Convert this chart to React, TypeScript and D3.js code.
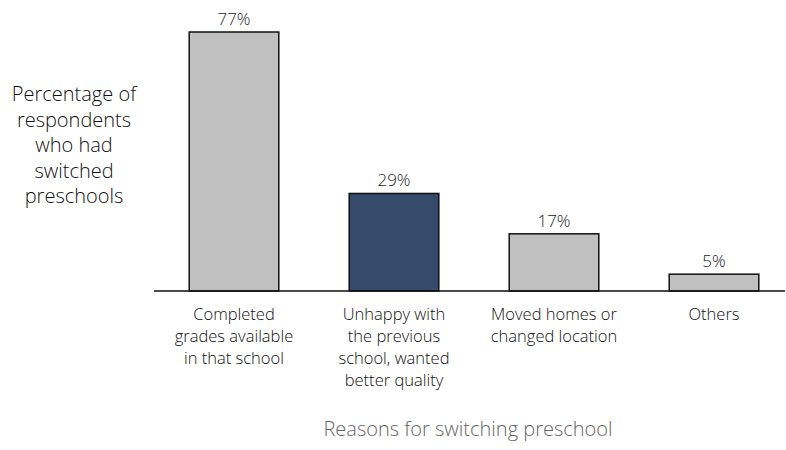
import { useEffect, useRef } from 'react'
import * as d3 from 'd3'

const categories = [
  ['Completed', 'grades available', 'in that school'],
  ['Unhappy with', 'the previous', 'school, wanted', 'better quality'],
  ['Moved homes or', 'changed location'],
  ['Others']
]
const values = [77, 29, 17, 5]
const highlight = [false, true, false, false]
const yTitle = ['Percentage of', 'respondents', 'who had', 'switched', 'preschools']
const xTitle = 'Reasons for switching preschool'

const width = 786
const height = 450
const font = "'Open Sans', 'Noto Sans', sans-serif"

export default function App() {
  const svgRef = useRef<SVGSVGElement>(null)

  useEffect(() => {
    if (!svgRef.current) return
    const svg = d3.select(svgRef.current)
    svg.selectAll('*').remove()

    const keys = categories.map((_, i) => String(i))
    const x = d3.scaleBand<string>()
      .domain(keys)
      .range([154, 794])
      .paddingInner(0.44)
      .paddingOuter(0.22)

    const y = d3.scaleLinear().domain([0, 77]).range([291, 32])

    // bars
    svg.selectAll('rect.bar')
      .data(values)
      .enter()
      .append('rect')
      .attr('class', 'bar')
      .attr('x', (_, i) => x(keys[i])!)
      .attr('y', d => y(d))
      .attr('width', x.bandwidth())
      .attr('height', d => y(0) - y(d))
      .attr('fill', (_, i) => highlight[i] ? '#364a6b' : '#c0c0c0')
      .attr('stroke', '#111')
      .attr('stroke-width', 1.5)

    // value labels
    svg.selectAll('text.val')
      .data(values)
      .enter()
      .append('text')
      .attr('class', 'val')
      .attr('x', (_, i) => x(keys[i])! + x.bandwidth() / 2)
      .attr('y', d => y(d) - 7)
      .attr('text-anchor', 'middle')
      .style('font-family', font)
      .style('font-size', '17px')
      .style('font-weight', 300)
      .style('fill', '#222')
      .text(d => `${d}%`)

    // baseline
    svg.append('line')
      .attr('x1', 154)
      .attr('x2', 785)
      .attr('y1', y(0))
      .attr('y2', y(0))
      .attr('stroke', '#111')
      .attr('stroke-width', 1.5)

    // category labels
    categories.forEach((lines, i) => {
      const t = svg.append('text')
        .attr('text-anchor', 'middle')
        .style('font-family', font)
        .style('font-size', '16.5px')
        .style('font-weight', 300)
        .style('fill', '#111')
      lines.forEach((line, j) => {
        t.append('tspan')
          .attr('x', x(keys[i])! + x.bandwidth() / 2)
          .attr('y', 320 + j * 22)
          .text(line)
      })
    })

    // y title
    const yt = svg.append('text')
      .attr('text-anchor', 'middle')
      .style('font-family', font)
      .style('font-size', '20px')
      .style('font-weight', 300)
      .style('fill', '#111')
    yTitle.forEach((line, j) => {
      yt.append('tspan')
        .attr('x', 74)
        .attr('y', 101 + j * 25.5)
        .text(line)
    })

    // x title
    svg.append('text')
      .attr('x', 468)
      .attr('y', 436)
      .attr('text-anchor', 'middle')
      .style('font-family', font)
      .style('font-size', '20px')
      .style('font-weight', 300)
      .style('fill', '#666')
      .text(xTitle)
  }, [])

  return (
    <svg
      ref={svgRef}
      width={width}
      height={height}
      style={{ position: 'absolute', left: 0, top: 0, background: '#fff' }}
    />
  )
}
